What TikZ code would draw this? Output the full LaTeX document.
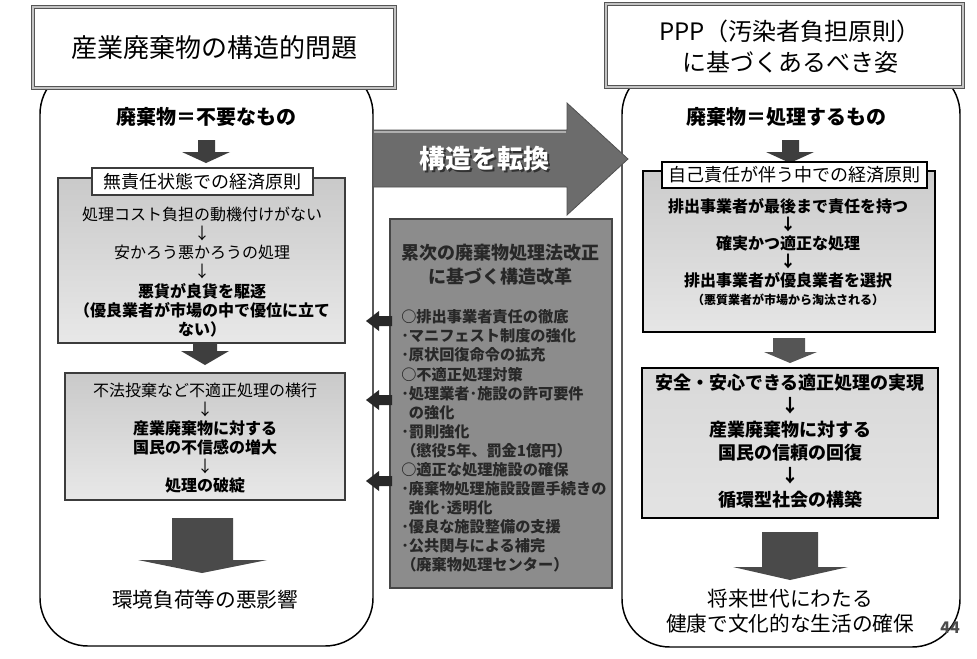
\documentclass[tikz,border=0pt]{standalone}
\usepackage{fontspec}
\setmainfont{Noto Sans CJK JP}
\usepackage{tikz}
\usetikzlibrary{arrows.meta}

\begin{document}
\begin{tikzpicture}[x=0.75pt,y=0.75pt,yscale=-1,xscale=1,
  roundbox/.style={draw=black,line width=1.1pt,fill=white,rounded corners=36pt},
  titlebox/.style={draw={rgb,255:red,85;green,85;blue,85},double={rgb,255:red,195;green,195;blue,195},double distance=2.2pt,line width=0.6pt,fill=white},
  leftbox/.style={draw={rgb,255:red,60;green,60;blue,60},line width=1pt,top color=gray!42,bottom color=gray!18},
  rightbox/.style={draw=black,line width=2pt,top color=gray!40,bottom color=gray!20},
  tabbox/.style={draw={rgb,255:red,60;green,60;blue,60},line width=0.8pt,fill=white},
  blkarrow/.style={fill={rgb,255:red,62;green,62;blue,62}},
  bigarrow/.style={fill={rgb,255:red,74;green,74;blue,74}},
  ptr/.style={fill={rgb,255:red,40;green,40;blue,40}},
  midtext/.style={text={rgb,255:red,40;green,40;blue,40},font=\bfseries\fontsize{11.4}{14.3}\selectfont,align=left,inner sep=0pt}
]
\useasboundingbox (0,0) rectangle (977,658);
%Shape: Page frame
\draw [color=gray,double=white,double distance=1pt,line width=0.6pt] (18,-2) -- (18,652) -- (970,652) -- (970,-2) ;

%Shape: Rounded Rectangle (left)
\draw [roundbox] (40,66) rectangle (373,646) ;
%Shape: Rounded Rectangle (right)
\draw [roundbox] (622,66) rectangle (960,647) ;

%Shape: Title boxes
\draw [titlebox] (33,7) rectangle (395,88) ;
\draw [titlebox] (606,4) rectangle (963,87) ;

% Text Node
\draw (214,48) node (lefttitle) [font=\fontsize{19.5}{24}\selectfont] {産業廃棄物の構造的問題};
% Text Node
\draw (790,47) node (righttitle) [font=\fontsize{18}{23.5}\selectfont,align=center] {PPP（汚染者負担原則）\\に基づくあるべき姿};

%Shape: Turn Arrow
\draw [bigarrow,fill={rgb,255:red,108;green,108;blue,108},draw={rgb,255:red,80;green,80;blue,80},line width=0.6pt] (373,130) -- (567,130) -- (567,103) -- (628,159) -- (567,215) -- (567,187) -- (373,187) -- cycle ;
\draw [color={rgb,255:red,175;green,175;blue,175},line width=1.5pt] (374,132) -- (566,132) ;
% Text Node
\draw (486,161) node (turnshadow) [text={rgb,255:red,50;green,50;blue,50},font=\bfseries\fontsize{19.5}{24}\selectfont] {構造を転換};
\draw (484,159) node (turn) [text=white,font=\bfseries\fontsize{19.5}{24}\selectfont] {構造を転換};

%% left column
% Text Node
\draw (206,117) node (leftwaste) [font=\bfseries\fontsize{15}{18}\selectfont] {廃棄物＝不要なもの};
%Shape: Down Arrow
\fill [blkarrow] (198,140) -- (215,140) -- (215,152) -- (230,152) -- (206,163) -- (182,152) -- (198,152) -- cycle ;

%Shape: Rectangle
\draw [leftbox] (58,178) rectangle (345,343) ;
\draw [tabbox] (92,168) rectangle (313,195) ;
% Text Node
\draw (202.5,181.5) node (lefttab) [font=\fontsize{13.5}{16}\selectfont] {無責任状態での経済原則};
% Text Node
\draw (202,272) node (leftchain) [font=\fontsize{12}{14.3}\selectfont,align=center] {処理コスト負担の動機付けがない\\ ↓\\ 安かろう悪かろうの処理\\ ↓\\ \bfseries 悪貨が良貨を駆逐\\ \bfseries （優良業者が市場の中で優位に立て\\ \bfseries ない）};

%Shape: Down Arrow
\fill [blkarrow] (193,343) -- (217,343) -- (217,351) -- (229,351) -- (205,365) -- (181,351) -- (193,351) -- cycle ;

%Shape: Rectangle
\draw [leftbox] (65,373) rectangle (345,500) ;
% Text Node
\draw (205,438) node (leftfail) [font=\fontsize{12}{14.25}\selectfont,align=center] {不法投棄など不適正処理の横行\\ ↓\\ \bfseries 産業廃棄物に対する\\ \bfseries 国民の不信感の増大\\ ↓\\ \bfseries 処理の破綻};

%Shape: Big Down Arrow
\fill [bigarrow] (172,518) -- (233,518) -- (233,560) -- (267,560) -- (202,573) -- (138,560) -- (172,560) -- cycle ;
% Text Node
\draw (205,600) node (leftresult) [font=\fontsize{15.5}{19}\selectfont] {環境負荷等の悪影響};

%% middle column
%Shape: Rectangle
\draw [draw={rgb,255:red,70;green,70;blue,70},line width=0.8pt,fill={rgb,255:red,140;green,140;blue,140}] (390,219) rectangle (612,588) ;
% Text Node
\draw (500,265) node (midhead) [text={rgb,255:red,40;green,40;blue,40},font=\bfseries\fontsize{13.5}{18}\selectfont,align=center] {累次の廃棄物処理法改正\\に基づく構造改革};
% Text Node
\draw (401,441) node (midlist) [midtext,anchor=west] {○排出事業者責任の徹底\\
･マニフェスト制度の強化\\
･原状回復命令の拡充\\
○不適正処理対策\\
･処理業者･施設の許可要件\\
\hspace{0.5em}の強化\\
･罰則強化\\
（懲役5年、罰金1億円）\\
○適正な処理施設の確保\\
･廃棄物処理施設設置手続きの\\
\hspace{0.5em}強化･透明化\\
･優良な施設整備の支援\\
･公共関与による補完\\
（廃棄物処理センター）};

%Shape: Left Pointers
\foreach \py in {321,400,481}{
  \fill [ptr] (392,\py-5) -- (379,\py-5) -- (379,\py-10) -- (366,\py) -- (379,\py+10) -- (379,\py+5) -- (392,\py+5) -- cycle ;
}

%% right column
% Text Node
\draw (786,117) node (rightwaste) [font=\bfseries\fontsize{15}{18}\selectfont] {廃棄物＝処理するもの};
%Shape: Down Arrow
\fill [blkarrow] (782,140) -- (799,140) -- (799,152) -- (814,152) -- (790,163) -- (766,152) -- (782,152) -- cycle ;

%Shape: Rectangle
\draw [rightbox] (643,171) rectangle (935,332) ;
\draw [tabbox,draw=black] (662,162) rectangle (927,188) ;
% Text Node
\draw (794.5,175) node (righttab) [font=\fontsize{13.5}{16}\selectfont] {自己責任が伴う中での経済原則};
% Text Node
\draw (788,252) node (rightchain) [font=\bfseries\fontsize{12}{13.8}\selectfont,align=center] {排出事業者が最後まで責任を持つ\\ ↓\\ 確実かつ適正な処理\\ ↓\\ 排出事業者が優良業者を選択\\ {\fontsize{9}{13.8}\selectfont （悪質業者が市場から淘汰される）}};

%Shape: Down Arrow
\fill [blkarrow,fill={rgb,255:red,85;green,85;blue,85}] (773,338) -- (805,338) -- (805,352) -- (817,352) -- (790,363) -- (764,352) -- (773,352) -- cycle ;

%Shape: Rectangle
\draw [rightbox,top color=gray!30,bottom color=gray!22] (642,368) rectangle (938,518) ;
% Text Node
\draw (790,441) node (rightgoal) [font=\bfseries\fontsize{13.5}{17.5}\selectfont,align=center] {安全・安心できる適正処理の実現\\ ↓\\ 産業廃棄物に対する\\ 国民の信頼の回復\\ ↓\\ 循環型社会の構築};

%Shape: Big Down Arrow
\fill [bigarrow] (762,532) -- (818,532) -- (818,567) -- (848,567) -- (790,580) -- (733,567) -- (762,567) -- cycle ;
% Text Node
\draw (790,611) node (rightresult) [font=\fontsize{15.5}{18.75}\selectfont,align=center] {将来世代にわたる\\健康で文化的な生活の確保};
% Text Node
\draw (950,628) node (pageno) [text=gray!60!black,font=\bfseries\fontsize{12}{14}\selectfont] {44};

\end{tikzpicture}
\end{document}
